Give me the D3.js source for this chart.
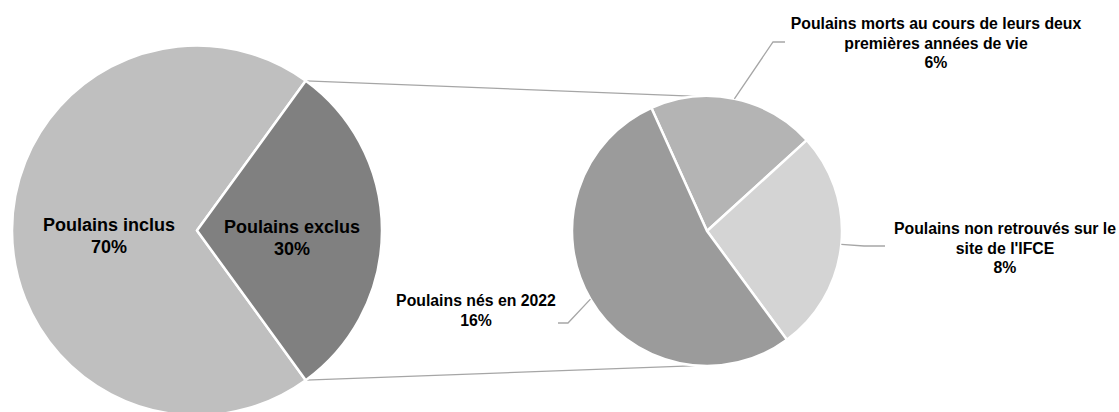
<!DOCTYPE html>
<html lang="fr">
<head>
<meta charset="utf-8">
<title>Poulains</title>
<script src="https://cdn.jsdelivr.net/npm/d3@7"></script>
<style>
  html, body { margin: 0; padding: 0; background: #fff; }
  svg { display: block; }
  text { font-family: "Liberation Sans", Arial, sans-serif; font-weight: bold; fill: #000; }
</style>
</head>
<body>
<div id="chart"></div>
<script>
(function(d3) {
  'use strict';

  // main pie
  var mainLabels = ['Poulains inclus', 'Poulains exclus'];
  var mainValues = [70, 30];

  // breakdown of "exclus"
  var subLabels = [
    ['Poulains morts au cours de leurs deux', 'premières années de vie'],
    ['Poulains non retrouvés sur le', 'site de l\'IFCE'],
    ['Poulains nés en 2022']
  ];
  var subValues = [6, 8, 16];

  var width = 1119, height = 412;
  var deg = Math.PI / 180;

  var svg = d3.select('#chart').append('svg')
    .attr('width', width)
    .attr('height', height);

  // ---- big pie
  var big = { cx: 197, cy: 230.5, r: 185 };
  var bigColors = ['#bfbfbf', '#808080'];
  var bigPie = d3.pie().sort(null)
    .startAngle(144 * deg).endAngle(504 * deg);
  var bigArc = d3.arc().innerRadius(0).outerRadius(big.r);
  var bigData = bigPie(mainValues);

  // ---- small pie
  var small = { cx: 707, cy: 231, r: 135 };
  var smallColors = ['#b4b4b4', '#d4d4d4', '#9b9b9b'];
  var smallPie = d3.pie().sort(null)
    .startAngle(-24.3 * deg).endAngle(335.7 * deg);
  var smallArc = d3.arc().innerRadius(0).outerRadius(small.r);
  var smallData = smallPie(subValues);

  function edge(c, r, a) {
    return [c.cx + r * Math.sin(a), c.cy - r * Math.cos(a)];
  }

  // connector lines between the two pies
  var exclus = bigData[1];
  var links = [
    [edge(big, big.r, exclus.startAngle), edge(small, small.r, -4 * deg)],
    [edge(big, big.r, exclus.endAngle), edge(small, small.r, 184 * deg)]
  ];
  svg.append('g').selectAll('line')
    .data(links).enter().append('line')
    .attr('x1', function(d) { return d[0][0]; })
    .attr('y1', function(d) { return d[0][1]; })
    .attr('x2', function(d) { return d[1][0]; })
    .attr('y2', function(d) { return d[1][1]; })
    .attr('stroke', '#a6a6a6')
    .attr('stroke-width', 1.3);

  var gBig = svg.append('g')
    .attr('transform', 'translate(' + big.cx + ',' + big.cy + ')');
  gBig.selectAll('path')
    .data(bigData).enter().append('path')
    .attr('d', bigArc)
    .attr('fill', function(d, i) { return bigColors[i]; })
    .attr('stroke', '#fff')
    .attr('stroke-width', 2.5)
    .attr('stroke-linejoin', 'round');

  var bigLabelPos = [[-88, 0], [95, 2]];
  var bigText = gBig.selectAll('text.lbl')
    .data(bigData).enter().append('text')
    .attr('class', 'lbl')
    .attr('text-anchor', 'middle')
    .attr('font-size', '18px')
    .attr('transform', function(d, i) {
      return 'translate(' + bigLabelPos[i][0] + ',' + bigLabelPos[i][1] + ')';
    });
  bigText.append('tspan').attr('x', 0).attr('y', 0)
    .text(function(d, i) { return mainLabels[i]; });
  bigText.append('tspan').attr('x', 0).attr('y', 22)
    .text(function(d) { return d.data + '%'; });

  var gSmall = svg.append('g')
    .attr('transform', 'translate(' + small.cx + ',' + small.cy + ')');
  gSmall.selectAll('path')
    .data(smallData).enter().append('path')
    .attr('d', smallArc)
    .attr('fill', function(d, i) { return smallColors[i]; })
    .attr('stroke', '#fff')
    .attr('stroke-width', 2.5)
    .attr('stroke-linejoin', 'round');

  // leader lines + labels of the small pie (elbow, end, text anchor in page coords)
  var subLayout = [
    { elbow: [773, 42], end: [785, 42], text: [936, 29] },
    { elbow: [864, 246], end: [885, 246], text: [1005, 234] },
    { elbow: [568, 323], end: [558, 323], text: [476, 306] }
  ];

  svg.append('g').selectAll('polyline')
    .data(smallData).enter().append('polyline')
    .attr('points', function(d, i) {
      var a = edge(small, small.r, (d.startAngle + d.endAngle) / 2);
      var L = subLayout[i];
      return [a, L.elbow, L.end].map(function(p) { return p.join(','); }).join(' ');
    })
    .attr('fill', 'none')
    .attr('stroke', '#a6a6a6')
    .attr('stroke-width', 1.3);

  var subText = svg.append('g').selectAll('text')
    .data(smallData).enter().append('text')
    .attr('text-anchor', 'middle')
    .attr('font-size', '15.8px')
    .attr('transform', function(d, i) {
      return 'translate(' + subLayout[i].text[0] + ',' + subLayout[i].text[1] + ')';
    });
  subText.each(function(d, i) {
    var t = d3.select(this);
    var lines = subLabels[i].concat([d.data + '%']);
    lines.forEach(function(s, k) {
      t.append('tspan').attr('x', 0).attr('y', k * 19.5).text(s);
    });
  });

})(window.d3);
</script>
</body>
</html>
